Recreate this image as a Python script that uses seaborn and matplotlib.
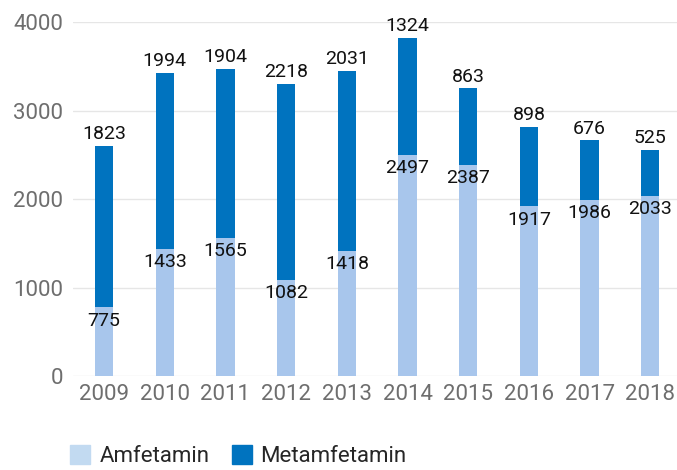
import pandas as pd
import matplotlib.pyplot as plt
import seaborn as sns
from matplotlib.patches import Patch

# Data
years = ['2009', '2010', '2011', '2012', '2013', '2014', '2015', '2016', '2017', '2018']
amfetamin = [775, 1433, 1565, 1082, 1418, 2497, 2387, 1917, 1986, 2033]
metamfetamin = [1823, 1994, 1904, 2218, 2031, 1324, 863, 898, 676, 525]

df = pd.DataFrame({'Year': years, 'Amfetamin': amfetamin, 'Metamfetamin': metamfetamin})
df['Total'] = df['Amfetamin'] + df['Metamfetamin']

light = '#A8C6EC'
dark = '#0073BF'

sns.set_theme(style='white')
plt.rcParams['font.family'] = ['Roboto', 'DejaVu Sans']

fig = plt.figure(figsize=(6.77, 4.70), dpi=100)
ax = fig.add_axes([0.108, 0.2, 0.892, 0.753])

# stacked bars: total in dark, amfetamin overlay in light
sns.barplot(data=df, x='Year', y='Total', color=dark, width=0.3, saturation=1, linewidth=0, ax=ax, zorder=2)
sns.barplot(data=df, x='Year', y='Amfetamin', color=light, width=0.3, saturation=1, linewidth=0, ax=ax, zorder=3)

# value labels
for i, row in df.iterrows():
    ax.annotate(f"{row['Metamfetamin']}", (i, row['Total']), xytext=(0, 2), textcoords='offset points',
                ha='center', va='bottom', fontsize=14, color='#111111', annotation_clip=False, zorder=5)
    ax.annotate(f"{row['Amfetamin']}", (i, row['Amfetamin']), xytext=(0, -3), textcoords='offset points',
                ha='center', va='top', fontsize=14, color='#111111', zorder=5)

ax.set_ylim(0, 4000)
ax.set_xlim(-0.51, 9.44)
ax.set_yticks([0, 1000, 2000, 3000, 4000])
ax.yaxis.grid(True, color='#e6e6e6', linewidth=1)
ax.set_axisbelow(True)
for s in ax.spines.values():
    s.set_visible(False)
ax.tick_params(axis='both', length=0, labelsize=16, labelcolor='#6e6e6e')
ax.tick_params(axis='y', pad=7)
ax.tick_params(axis='x', pad=6)
ax.set_xlabel('')
ax.set_ylabel('')

handles = [Patch(color='#C2DAF1', label='Amfetamin'), Patch(color=dark, label='Metamfetamin')]
fig.legend(handles=handles, loc='upper left', bbox_to_anchor=(0.104, 0.053), ncol=2, frameon=False,
           fontsize=16, handlelength=0.9, handleheight=0.9, handletextpad=0.4, columnspacing=1.0,
           borderaxespad=0, borderpad=0)

fig.savefig('out.png', dpi=100)
